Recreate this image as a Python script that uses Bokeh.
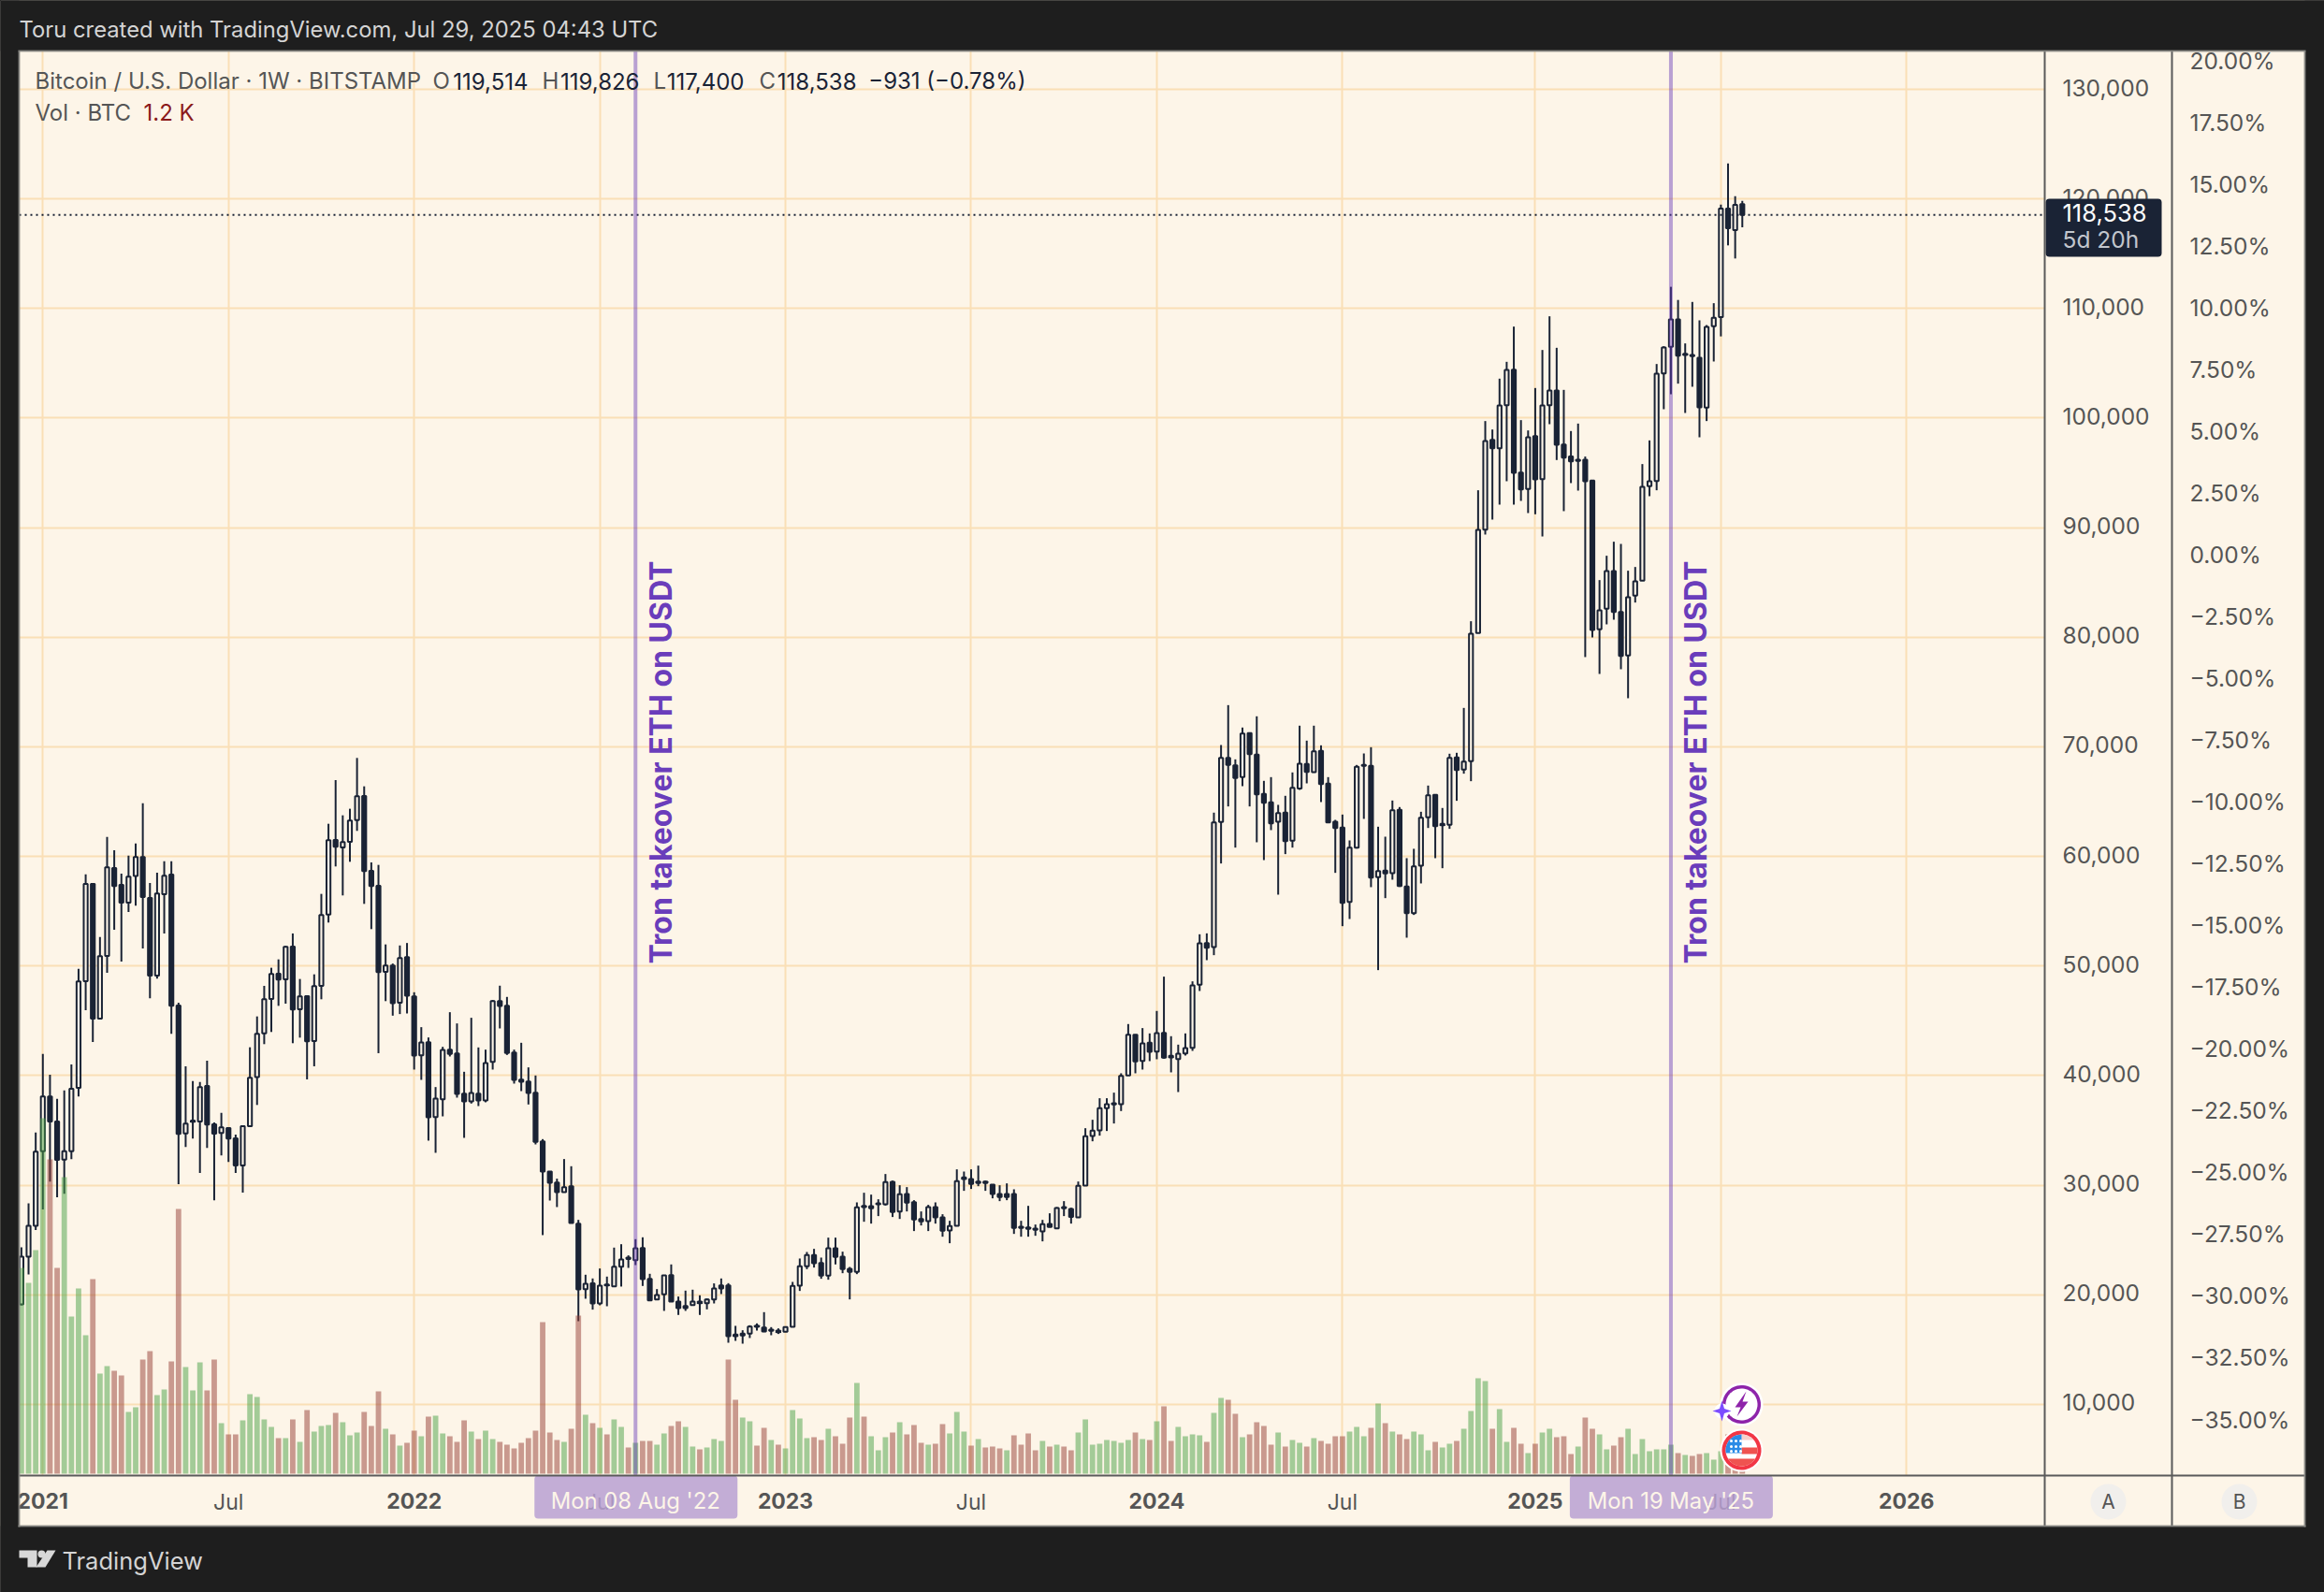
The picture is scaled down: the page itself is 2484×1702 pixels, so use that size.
import math
from datetime import date
import numpy as np
from bokeh.embed import file_html
from bokeh.resources import INLINE
from bokeh.plotting import figure
from bokeh.models import (Range1d, LinearAxis, FixedTicker, Grid, Span, Label, BoxAnnotation,
                          NumeralTickFormatter, CustomJSTickFormatter)

first_week = date(2020, 12, 14)
opens = [19130,23480,26290,33115,38090,35820,32345,33115,38890,48620,
57500,45205,50925,58950,57410,55790,58210,59945,56215,49130,
56560,58350,46400,34735,35790,35820,39060,35560,34765,35220,
34280,31805,35390,39860,43870,47000,49300,48790,51780,46060,
47255,43160,48195,54710,61510,60825,61340,63330,65520,58690,
57325,49475,50055,46645,50825,47240,41865,43060,36230,37850,
42375,42035,38365,37655,38365,37740,41265,46815,46385,42120,
39645,39470,38450,34010,31250,30255,29375,29915,26500,20525,
21040,19215,20950,20780,22575,23260,23170,24280,21465,19585,
20040,21805,19390,18990,19075,19390,19245,19585,20865,20865,
16370,16460,16460,17080,17025,16830,16745,16630,17085,20840,
22600,23630,22915,21750,24255,23485,22375,22090,28010,28095,
28265,28265,30315,27610,29205,28465,26925,26730,28010,27070,
25875,26300,30570,30570,30200,30340,30055,29205,29205,29205,
26215,26160,26045,25790,26470,26075,28010,27840,27070,29970,
34495,35005,37025,37480,37395,40015,43740,41350,43000,42205,
43910,41805,41520,42035,42545,48295,52105,51735,63145,69005,
68320,67240,71250,69290,65705,64935,63170,64000,61435,66190,
68435,67695,69630,66645,63170,62630,55860,60810,68350,68265,
58110,58705,58480,64255,57255,54835,59160,63570,65620,62860,
62890,69035,67925,68690,80385,89830,98020,97255,101180,104425,
95035,93530,98365,94440,101180,102520,97595,96490,96200,96200,
94295,80725,82600,86045,82320,78335,83800,85160,93785,94270,
104080,106500,109005,105875,105760,105505,100950,108380,109215,119120,
117155,119514]
closes = [23480,26300,33060,38090,35820,32320,33115,38805,48590,57500,
45205,50895,59005,57300,55790,58150,59945,56300,49130,56615,
58235,46370,34680,35620,35900,38945,35535,34710,35275,34255,
31805,35390,39800,43810,46970,49275,48760,51750,46030,47225,
43130,48165,54650,61480,60880,61310,63270,65490,58665,57300,
49445,50040,46615,50740,47300,41835,43030,36200,37910,42345,
41975,38335,37655,38420,37740,41150,46815,46360,42060,39615,
39445,38420,33955,31250,30225,29375,29830,26555,20500,21010,
19215,20840,20865,22575,23230,23400,24255,21435,19500,19985,
21775,19390,18790,18790,19390,19245,19585,20585,20585,16230,
16230,16285,17110,17195,16655,16715,16600,17055,20810,22600,
23630,22890,21750,24255,23455,22345,22090,27980,28120,27895,
28350,30285,27555,29175,28405,26870,26700,28010,27070,25845,
26275,30370,30710,30115,30340,30200,29205,28920,28920,26100,
26100,26015,25930,26445,26190,27925,27895,27100,29945,34465,
34980,37025,37395,37370,39985,43740,41295,42945,42175,43885,
41635,41665,42005,42520,48235,52075,51680,63115,69005,68350,
67155,71225,69345,65675,64905,63030,63970,61410,66275,68465,
67725,69600,66615,63115,62600,55775,60810,68180,68265,58080,
58675,58450,64225,57310,54835,59105,63540,65590,62775,62975,
69005,67895,68665,80325,89800,97910,97255,101150,104395,95005,
93500,98250,94410,101150,102520,97565,96400,96060,96090,94240,
80670,82460,86045,82320,78305,83655,85105,93725,94240,104055,
106445,109005,105705,105760,105645,100980,108320,109145,119120,117325,
119460,118538]
highs = [24340,28350,34820,41990,40085,37895,38660,41025,49760,58380,
57580,52660,61790,60570,58435,60085,61195,64865,57580,58520,
59575,59575,46655,40855,39515,39430,41365,35730,36615,35250,
34620,35450,42590,45405,48195,49845,50610,51835,52975,48820,
47340,49245,56585,62985,66970,63755,64355,68990,66400,59460,
59230,51975,50230,51880,52105,47610,44425,43485,38960,42630,
45790,44765,40355,45280,42575,42375,46900,48210,47185,42375,
43000,40755,40015,34210,31280,30600,32390,31735,26840,21835,
21495,22405,21665,24310,24620,23600,25080,25250,21920,20525,
21805,22775,19845,20385,20470,19960,19670,21040,21495,21065,
17170,16770,17225,17395,18420,17055,16940,17110,21180,23315,
23910,24195,23400,25220,25220,23940,22545,28435,29315,29145,
28720,31025,30425,30000,29830,28635,27610,28210,28435,27355,
26755,31450,31250,31450,31790,30425,30085,30000,30170,29630,
26755,28120,26415,26840,27440,28010,28550,27950,30340,35205,
35975,37940,37940,38450,40215,44710,43770,44340,43855,45905,
49035,43600,42830,43855,48605,52900,52985,64000,70170,73810,
68860,71765,71250,72790,66900,67240,64710,65535,67670,71935,
70570,71935,70140,67240,63340,63825,61465,68350,69400,69970,
62715,61805,65105,64510,59845,60700,64080,66470,65620,64425,
69375,69460,73555,81465,93415,99730,98960,103600,105135,108350,
99815,98875,102745,106215,109290,106415,102575,98820,99500,96490,
94355,85220,87440,88720,88520,86075,86415,95805,97965,104935,
106560,111980,110780,106815,110600,108920,108490,110485,119490,123245,
120255,119826]
lows = [19045,21860,25920,27795,30330,28905,29215,32375,38090,45975,
43070,45120,49390,53315,50410,54935,55505,51605,47055,48850,
52975,43810,30100,33485,34255,31125,33400,28620,32715,32120,
31125,29330,35390,37325,42875,43985,46370,46570,42960,43470,
39660,40855,46970,53970,59090,56445,59515,62335,55675,53370,
42050,46800,45475,45620,45675,40555,39615,34070,32960,36285,
41750,37995,34325,37455,37225,37570,40555,44310,41890,39275,
38590,37370,33725,25450,28605,28010,29345,26555,17595,19645,
18650,19045,18960,20780,20755,22460,22715,20810,19445,19560,
18535,19390,18165,18535,19045,18165,18675,19215,20070,15630,
15800,15545,16060,16740,16600,16315,16430,16600,17085,20355,
22345,22490,21465,21380,22775,21975,19585,21890,26670,26500,
27185,28150,27100,26925,27610,25820,26330,25820,26500,25305,
24710,26275,29490,29660,29915,29490,28805,28550,28635,25560,
25305,25305,25390,24880,26160,26015,27185,26500,27040,29945,
34010,34525,34950,35635,36770,40015,40215,40555,41325,41495,
41550,40300,38505,41835,42260,47725,50540,50995,59360,64565,
60810,66415,64565,61295,59670,62405,56515,60215,60810,66075,
66670,67640,64965,63115,58505,53640,54295,60725,63430,57200,
49630,56200,57880,57225,52590,54665,57540,62600,59845,58930,
62520,65080,67555,66870,80385,89375,90740,92105,94240,92105,
92445,91335,91225,89200,99445,96175,91510,94070,93385,78195,
79985,76655,81180,81605,77085,74440,83170,85160,92875,93415,
100810,102175,103145,100470,102860,98250,99730,105165,107455,115760,
114565,117400]
volumes = [66000,61200,71700,114000,100800,66000,95100,50400,59400,44400,
62400,32100,34500,33000,31500,19800,21300,36600,39300,25200,
27000,36000,84900,34200,26700,35700,26700,36600,16200,12600,
12600,17100,25500,24600,17400,15000,11400,11400,17400,10200,
20400,13500,15300,15600,19500,16500,12300,13200,19800,15300,
26400,14400,12600,9000,9900,13800,12000,18300,18600,12900,
12000,10200,17100,13500,11100,13800,11100,10200,9300,8100,
9900,11400,13800,48600,13200,10800,10200,14400,50700,18900,
16200,14700,12600,17400,15000,8400,9900,10500,10500,9300,
12900,15300,16800,15000,8700,7800,8400,11100,10500,36600,
23700,18000,16800,9000,14700,10800,9300,8100,20400,17700,
11400,11700,10800,14400,12000,9600,18000,29100,18300,12000,
7500,11700,13200,16500,12600,15600,9900,9300,9600,15900,
12900,19800,13500,9000,11100,8400,8700,8100,7500,12300,
9300,12900,7500,10500,8700,9300,8700,7500,13200,17400,
9300,9600,10800,10500,9900,10800,13200,11100,10800,16800,
21600,10500,15000,12000,12600,12300,10200,19500,24300,23700,
19200,11700,12600,16500,15300,9300,13200,8700,10800,9900,
8700,11400,10500,9600,12000,12000,13500,15000,12000,14700,
22500,16200,13500,12600,11100,13500,12600,7500,10200,8400,
9600,10500,14400,20100,30600,29700,14400,20700,10200,14700,
9600,6600,9600,13200,14400,11700,12000,6300,8700,18000,
14400,12600,7800,9000,11700,14400,6300,11100,7200,7800,
7800,9300,6600,6000,5700,6300,6600,4500,7200,12600,
9000,1200]
vol_direction = ("GGGGRRGGGG" "RGGRRGGRRG" "GRRGGGRRGR" "RGGGGGRGRG" "RGGGRGGGRR" "RGRGRRGRGG"
                 "RRRGRGGRRR" "RRRRRRGRRG" "RGRGGRGRRG" "GRRGGRGGGR" "RGGRRGRGGG" "GRRGRRRGRG"
                 "GGRGRRRGRR" "GGGRGRRRGR" "RRRGRGRRGG" "GGGGGGRGRG" "RRGGGGRGGR" "RGRRRRGRGG"
                 "RGRRRRGGGR" "GRGRRGGGRG" "GRGGGGRGGR" "RGRGGRRRGR" "RGGRRGGGGG" "GGRGRRGGGR" "RR")
price_ticks = [10000 * k for k in range(1, 14)]
percent_ticks = [20 - 2.5 * k for k in range(23)]
regular_ticks = [date(2021, 7, 5), date(2022, 7, 4), date(2023, 7, 3), date(2024, 7, 1), date(2025, 7, 7)]
year_ticks = [date(2021, 1, 4), date(2022, 1, 3), date(2023, 1, 2), date(2024, 1, 1), date(2025, 1, 6), date(2026, 1, 5)]
year_labels = ["2021", "2022", "2023", "2024", "2025", "2026"]
event_weeks = [date(2022, 8, 8), date(2025, 5, 19)]
event_labels = ["Mon 08 Aug '22", "Mon 19 May '25"]
last_price = 118538

BG = "#fdf5e8"; DARK = "#1e1e1e"; INK = "#1a2335"; GRID = "#fadfb6"; AXC = "#5a5a5a"; TXT = "#555555"
PURPLE = "#673ab7"; FONT = "Inter"
W, H = 2484, 1702

def wk(d):
    return (d - first_week).days / 7

# main chart: frame occupies x 20..2185, y 54..1577 of the page
p = figure(width=W, height=H, output_backend="svg", toolbar_location=None, tools="",
           x_axis_type=None, y_axis_type=None,
           x_range=Range1d(-0.314, 283.35), y_range=Range1d(3511, 133499),
           background_fill_color=BG, border_fill_color=BG,
           min_border_left=20, min_border_top=54, min_border_right=299, min_border_bottom=125)
p.outline_line_color = None
# the price labels sit 2px above their grid lines, hence the small shift of their axis range
p.extra_y_ranges = {"vol": Range1d(-600, 456300), "pct": Range1d(-37.27, 20.38),
                    "price_labels": Range1d(3511 - 170, 133499 - 170)}

p.add_layout(Grid(dimension=1, ticker=FixedTicker(ticks=price_ticks), grid_line_color=GRID, grid_line_width=2))
p.add_layout(Grid(dimension=0, ticker=FixedTicker(ticks=[wk(d) for d in regular_ticks + year_ticks]),
                  grid_line_color=GRID, grid_line_width=2))

price_axis = LinearAxis(y_range_name="price_labels", ticker=FixedTicker(ticks=price_ticks),
                        formatter=NumeralTickFormatter(format="0,0"))
pct_axis = LinearAxis(y_range_name="pct", ticker=FixedTicker(ticks=percent_ticks),
                      formatter=CustomJSTickFormatter(code="return tick.toFixed(2).replace('-', '\\u2212') + '%'"))
for ax, st in ((price_axis, 19), (pct_axis, 40)):
    ax.axis_line_color = None; ax.major_tick_line_color = None; ax.minor_tick_line_color = None
    ax.major_tick_out = 0; ax.major_tick_in = 0; ax.minor_tick_out = 0; ax.minor_tick_in = 0
    ax.major_label_text_color = TXT; ax.major_label_text_font = FONT
    ax.major_label_text_font_size = "24.5px"; ax.major_label_standoff = st
    p.add_layout(ax, "right")
month_axis = LinearAxis(ticker=FixedTicker(ticks=[wk(d) for d in regular_ticks]),
                        major_label_overrides={wk(d): "Jul" for d in regular_ticks})
year_axis = LinearAxis(ticker=FixedTicker(ticks=[wk(d) for d in year_ticks]),
                       major_label_overrides={wk(d): s for d, s in zip(year_ticks, year_labels)})
for ax, st, fs in ((month_axis, 14, "normal"), (year_axis, -27, "bold")):
    ax.axis_line_color = None; ax.major_tick_line_color = None; ax.minor_tick_line_color = None
    ax.major_tick_out = 0; ax.major_tick_in = 0; ax.minor_tick_out = 0; ax.minor_tick_in = 0
    ax.major_label_text_color = TXT; ax.major_label_text_font = FONT
    ax.major_label_text_font_size = "23px"; ax.major_label_standoff = st
    ax.major_label_text_font_style = fs
    p.add_layout(ax, "below")

idx = np.arange(len(opens))
o, c, hi, lo = map(np.array, (opens, closes, highs, lows))
up = c >= o
p.segment(idx, hi, idx, lo, line_color=INK, line_width=2)
w = 0.55
p.vbar(idx[up], width=w, top=c[up], bottom=o[up], fill_color=BG, line_color=INK, line_width=2)
p.vbar(idx[~up], width=w, top=o[~up], bottom=c[~up], fill_color=INK, line_color=INK, line_width=2)

vol = np.array(volumes)
vcol = ["#49a146" if ch == "G" else "#953d34" for ch in vol_direction]
p.vbar(idx, width=0.76, top=vol, bottom=0, y_range_name="vol", fill_color=vcol, fill_alpha=0.5, line_color=None)

p.add_layout(Span(location=last_price, dimension="width", line_color=INK, line_width=2, line_dash="2 4"))

for d in event_weeks:
    p.add_layout(Span(location=wk(d), dimension="height", line_color=PURPLE, line_width=4, line_alpha=0.45))
    p.add_layout(Label(x=wk(d), y=50200, x_offset=27, text="Tron takeover ETH on USDT", angle=math.pi / 2,
                       text_color="#6a3dbb", text_font=FONT, text_font_style="bold", text_font_size="32px",
                       text_align="left", text_baseline="alphabetic"))

# overlay page: same size, transparent, coordinates are page pixels
ov = figure(width=W, height=H, output_backend="svg", toolbar_location=None, tools="",
            x_axis_type=None, y_axis_type=None, x_range=Range1d(0, W), y_range=Range1d(H, 0),
            background_fill_alpha=0, border_fill_alpha=0,
            min_border_left=0, min_border_right=0, min_border_top=0, min_border_bottom=0,
            styles={"position": "absolute", "left": "0px", "top": "0px"})
ov.outline_line_color = None
ov.xgrid.visible = False; ov.ygrid.visible = False

def box(l, r, t, b, color, alpha=1.0, radius=0):
    ov.add_layout(BoxAnnotation(left=l, right=r, top=t, bottom=b, fill_color=color, fill_alpha=alpha,
                                line_color=None, border_radius=radius, level="annotation"))

def txt(x, y, s, color=TXT, size=24, style="normal", align="left"):
    ov.add_layout(Label(x=x, y=y, text=s, text_color=color, text_font_size=f"{size}px", text_font_style=style,
                        text_align=align, text_baseline="middle", text_font=FONT))

# dark surround
box(0, W, 0, 54, DARK); box(0, 20, 0, H, DARK); box(2463, W, 0, H, DARK); box(0, W, 1631, H, DARK)

# event date badges
for d, s in zip(event_weeks, event_labels):
    xp = 22.4 + wk(d) * 7.632
    box(xp - 108, xp + 109, 1577, 1623, "#b9a0d2", alpha=0.85, radius=4)
    txt(xp, 1604, s, color="#fdf5e8", size=23.8, align="center")

# price tag
box(2186, 2310, 212, 274, INK, radius=4)
txt(2204, 227, "118,538", color="#ffffff", size=25.5)
txt(2204, 255, "5d 20h", color="#c2c6cd", size=24.5)

# pane lines and thin outer frame
for (l, r, t, b) in ((2184, 2186, 54, 1631), (2320, 2322, 54, 1631), (20, 2463, 1576, 1578)):
    box(l, r, t, b, AXC)
for (l, r, t, b) in ((19, 2464, 53, 55), (19, 21, 54, 1632), (2462, 2464, 54, 1632), (19, 2464, 1630, 1632)):
    box(l, r, t, b, "#8a8a86", alpha=0.8)

# A / B buttons
for xc, s in ((2253, "A"), (2393, "B")):
    box(xc - 19, xc + 19, 1586, 1624, "#f1efec", radius=19)
    txt(xc, 1605, s, size=21, align="center")

# header and legend
txt(20, 31, "Toru created with TradingView.com, Jul 29, 2025 04:43 UTC", color="#d4d4d4", size=23.8)
txt(37, 86, "Bitcoin / U.S. Dollar \u00b7 1W \u00b7 BITSTAMP")
for x, s in ((462, "O"), (579, "H"), (698, "L"), (811, "C")):
    txt(x, 86, s)
for x, s in ((564, "119,514"), (683, "119,826"), (795, "117,400"), (915, "118,538"),
             (1096, "\u2212931 (\u22120.78%)")):
    txt(x, 86, s, color=INK, align="right")
txt(37, 120, "Vol \u00b7 BTC")
txt(153, 120, "1.2 K", color="#8b1a1a")

# TradingView mark
for xs, ys in (([20, 39, 39, 29, 29, 20], [1657, 1657, 1675, 1675, 1665, 1665]),
               ([50, 59, 48, 38], [1657, 1657, 1675, 1675])):
    ov.patch(xs, ys, fill_color="#d8d8d8", line_color=None, level="overlay")
ov.circle([44], [1661], radius=4, fill_color="#d8d8d8", line_color=None, level="overlay")
txt(66, 1668, "TradingView", color="#d4d4d4", size=25.5)

# calendar icons
def disc(cx, cy, r, color):
    t = np.linspace(0, 2 * np.pi, 60)
    ov.patch(cx + r * np.cos(t), cy + r * np.sin(t), fill_color=color, line_color=None)

def clip_rect(cx, cy, r, x0, x1, y0, y1, color):
    ys = np.linspace(max(y0, -r), min(y1, r), 20)
    half = np.sqrt(np.maximum(r * r - ys * ys, 0))
    left = np.maximum(x0, -half); right = np.minimum(x1, half)
    ov.patch(cx + np.r_[left, right[::-1]], cy + np.r_[ys, ys[::-1]], fill_color=color, line_color=None)

bx, by = 1861, 1501
disc(bx, by, 23, "#ffffff"); disc(bx, by, 20.5, "#8e24aa"); disc(bx, by, 17, "#ffffff")
ov.patch(bx + np.array([5, -7, -1, -5, 7, 1]), by + np.array([-14, 3, 3, 13, -3, -3]), fill_color="#8e24aa", line_color=None)
sx, sy = 1840, 1508
disc(sx, sy, 8, "#ffffff")
ov.patch(sx + np.array([0, 2.5, 10, 2.5, 0, -2.5, -10, -2.5]), sy + np.array([-11, -2.5, 0, 2.5, 11, 2.5, 0, -2.5]),
         fill_color="#7c4dff", line_color=None)
fx, fy = 1861, 1550
disc(fx, fy, 23, "#ffffff"); disc(fx, fy, 21, "#f23645"); disc(fx, fy, 17, "#ffffff")
clip_rect(fx, fy, 17, 0, 17, -3, 4, "#ef5350")
clip_rect(fx, fy, 17, -17, 17, 9, 17, "#ef5350")
clip_rect(fx, fy, 17, 0, 17, -17, -11, "#f7d0cc")
clip_rect(fx, fy, 17, -17, 0, -17, 3, "#2b8be6")
ov.scatter(fx + np.array([-11, -6, -1, -11, -6, -1, -11, -6, -1]), fy + np.array([-10, -10, -10, -4, -4, -4, 1, 1, 1]),
           size=3, fill_color="#ffffff", line_color=None)

html = file_html([p, ov], INLINE)
html = html.replace("<head>", "<head><style>html,body{margin:0;padding:0;overflow:hidden;background:#1e1e1e}</style>", 1)
open("out.html", "w").write(html)
